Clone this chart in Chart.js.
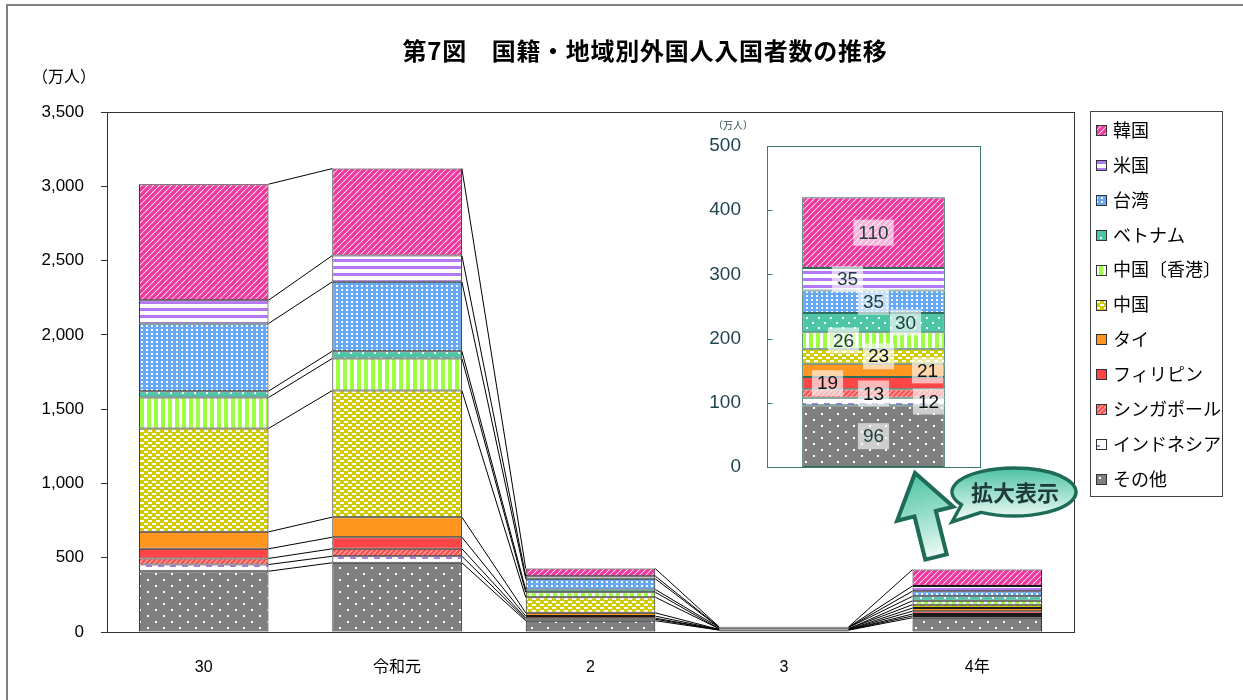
<!DOCTYPE html>
<html lang="ja">
<head>
<meta charset="utf-8">
<title>国籍・地域別外国人入国者数の推移</title>
<script src="https://cdn.jsdelivr.net/npm/chart.js@4/dist/chart.umd.min.js"></script>
<style>
  html, body { margin: 0; padding: 0; background: #fff; }
  #wrap { position: relative; width: 1243px; height: 700px; }
  #main { position: absolute; left: 0; top: 0; }
  #zoom { position: absolute; left: 690px; top: 110px; pointer-events: none; }
</style>
</head>
<body>
<div id="wrap">
  <canvas id="main" width="1243" height="700"></canvas>
  <canvas id="zoom" width="300" height="370"></canvas>
</div>
<script>
// ---- data (万人) ----
const categories = ['30', '令和元', '2', '3', '4年'];
const seriesNames = ['その他', 'インドネシア', 'シンガポール', 'フィリピン', 'タイ', '中国', '中国〔香港〕', 'ベトナム', '台湾', '米国', '韓国'];
const other       = [409, 466, 76, 12.6, 96];
const indonesia   = [45, 44, 10, 2.2, 12];
const singapore   = [41, 50, 7, 0.2, 13];
const philippines = [65, 78, 14, 1.6, 19];
const thailand    = [114, 135, 22, 1.0, 21];
const china       = [696, 852, 105, 4.3, 23];
const hongkong    = [208, 216, 34, 0.2, 26];
const vietnam     = [43, 49, 18, 8.4, 30];
const taiwan      = [455, 467, 72, 0.5, 35];
const usa         = [157, 177, 18, 2.1, 35];
const korea       = [781, 585, 51, 1.9, 110];
const mainTicks  = [0, 500, 1000, 1500, 2000, 2500, 3000, 3500];
const zoomTicks  = [0, 100, 200, 300, 400, 500];
const zoomIndex  = 4; // the 4年 column is enlarged in the inset

const seriesValues = [other, indonesia, singapore, philippines, thailand, china, hongkong, vietnam, taiwan, usa, korea];

// ---- fill patterns ----
function tile(w, h, draw) {
  const c = document.createElement('canvas');
  c.width = w; c.height = h;
  const g = c.getContext('2d');
  draw(g, w, h);
  return g.createPattern(c, 'repeat');
}
function diagonal(fg, bg, p, lw) {
  return tile(p, p, (g, w, h) => {
    g.fillStyle = bg; g.fillRect(0, 0, w, h);
    g.strokeStyle = fg; g.lineWidth = lw;
    for (const o of [-p, 0, p]) {
      g.beginPath(); g.moveTo(o - 1, p + 1); g.lineTo(o + p + 1, -1); g.stroke();
    }
  });
}
function dots(bg, w, h, pts, dw, dh, fg) {
  return tile(w, h, (g) => {
    g.fillStyle = bg; g.fillRect(0, 0, w, h);
    g.fillStyle = fg || '#ffffff';
    pts.forEach(([x, y]) => g.fillRect(x, y, dw, dh));
  });
}
const fills = [
  dots('#7f7f7f', 16, 12, [[3, 3], [11, 9]], 2, 2),                    // その他
  dots('#ffffff', 12, 8, [[2, 5]], 6, 2, '#a878f2'),                  // インドネシア
  diagonal('#ff4f4f', '#ffb8b8', 5, 2.6),                              // シンガポール
  '#ff4646',                                                           // フィリピン
  '#ff9620',                                                           // タイ
  dots('#d3ca00', 8, 6, [[0, 1], [4, 4]], 4, 2),                       // 中国
  tile(7, 1, (g) => { g.fillStyle = '#ffffff'; g.fillRect(0, 0, 7, 1); g.fillStyle = '#9cff40'; g.fillRect(0, 0, 4, 1); }), // 中国〔香港〕
  dots('#4dc5a7', 12, 10, [[2, 2], [8, 7]], 2, 2),                     // ベトナム
  dots('#66aaf7', 5, 4, [[1, 1]], 2, 2),                               // 台湾
  tile(1, 7, (g) => { g.fillStyle = '#ffffff'; g.fillRect(0, 0, 1, 7); g.fillStyle = '#b478f5'; g.fillRect(0, 0, 1, 3); }), // 米国
  diagonal('#ee3a9e', '#ffffff', 6, 3.4)                               // 韓国
];

const FONT_LATIN = '"Liberation Sans", "Noto Sans CJK JP", sans-serif';
const FONT_JP = '"Noto Sans CJK JP", "Liberation Sans", sans-serif';

// ---- main chart decorations ----
const frameAndText = {
  id: 'frameAndText',
  beforeDraw(chart) {
    const ctx = chart.ctx;
    ctx.save();
    ctx.fillStyle = '#ffffff';
    ctx.fillRect(0, 0, chart.width, chart.height);
    // outer border
    ctx.strokeStyle = '#808080'; ctx.lineWidth = 2;
    ctx.strokeRect(7, 5, chart.width + 20, chart.height + 20);
    // title
    ctx.fillStyle = '#000';
    ctx.font = 'bold 24px ' + FONT_JP;
    ctx.textAlign = 'center'; ctx.textBaseline = 'middle';
    const title = '第7図　国籍・地域別外国人入国者数の推移';
    const w = ctx.measureText(title).width;
    const target = 485;
    ctx.letterSpacing = ((target - w) / title.length).toFixed(2) + 'px';
    ctx.fillText(title, 645, 51);
    ctx.letterSpacing = '0px';
    // unit
    ctx.font = '16px ' + FONT_JP;
    ctx.fillText('（万人）', 64, 76);
    ctx.restore();
  },
  beforeDatasetsDraw(chart) {
    const { ctx, chartArea: a } = chart;
    ctx.save();
    ctx.strokeStyle = '#333'; ctx.lineWidth = 1;
    ctx.strokeRect(Math.round(a.left) + 0.5, Math.round(a.top) + 0.5, Math.round(a.right - a.left), Math.round(a.bottom - a.top));
    ctx.restore();
  },
  afterDatasetsDraw(chart) {
    // series lines joining the top of every segment across neighbouring bars
    const ctx = chart.ctx;
    ctx.save();
    ctx.strokeStyle = '#000'; ctx.lineWidth = 1;
    chart.data.datasets.forEach((ds, d) => {
      const meta = chart.getDatasetMeta(d);
      for (let i = 0; i < meta.data.length - 1; i++) {
        const a = meta.data[i], b = meta.data[i + 1];
        ctx.beginPath();
        ctx.moveTo(a.x + a.width / 2, a.y);
        ctx.lineTo(b.x - b.width / 2, b.y);
        ctx.stroke();
      }
    });
    ctx.restore();
  },
  afterDraw(chart) {
    const ctx = chart.ctx;
    ctx.save();
    // legend (top series first)
    ctx.strokeStyle = '#444'; ctx.lineWidth = 1;
    ctx.strokeRect(1090.5, 111.5, 132, 385);
    ctx.font = '18px ' + FONT_JP;
    ctx.textAlign = 'left'; ctx.textBaseline = 'middle';
    const n = chart.data.datasets.length;
    for (let k = 0; k < n; k++) {
      const ds = chart.data.datasets[n - 1 - k];
      const cy = 130 + k * 34.9;
      ctx.fillStyle = ds.backgroundColor;
      ctx.fillRect(1097, Math.round(cy) - 4, 9, 9);
      ctx.strokeStyle = '#333';
      ctx.strokeRect(1096.5, Math.round(cy) - 4.5, 10, 10);
      ctx.fillStyle = '#000';
      ctx.fillText(ds.label, 1113, cy);
    }

    // arrow pointing up to the enlarged view
    const bx = 936, by = 557, tx = 915, ty = 473;
    const ang = Math.atan2(ty - by, tx - bx);
    const len = Math.hypot(tx - bx, ty - by);
    ctx.save();
    ctx.translate(bx, by);
    ctx.rotate(ang);
    const grad = ctx.createLinearGradient(0, 0, len, 0);
    grad.addColorStop(0, '#eefaf6');
    grad.addColorStop(0.55, '#8fdcc4');
    grad.addColorStop(1, '#4cc3a3');
    ctx.beginPath();
    ctx.moveTo(0, -11); ctx.lineTo(len - 42, -11); ctx.lineTo(len - 42, -29);
    ctx.lineTo(len, 0);
    ctx.lineTo(len - 42, 29); ctx.lineTo(len - 42, 11); ctx.lineTo(0, 11);
    ctx.closePath();
    ctx.fillStyle = grad; ctx.fill();
    ctx.lineWidth = 4; ctx.strokeStyle = '#1e6b57'; ctx.lineJoin = 'miter';
    ctx.stroke();
    ctx.restore();

    // speech bubble
    const cx = 1014, cy = 492, rx = 62, ry = 24;
    const d2r = Math.PI / 180;
    const bg = ctx.createLinearGradient(0, cy - ry, 0, cy + ry);
    bg.addColorStop(0, '#4cc3a3');
    bg.addColorStop(1, '#e6f7f1');
    ctx.beginPath();
    ctx.moveTo(952, 522);
    ctx.ellipse(cx, cy, rx, ry, 0, 148 * d2r, 482 * d2r, false);
    ctx.closePath();
    ctx.fillStyle = bg; ctx.fill();
    ctx.lineWidth = 3.5; ctx.strokeStyle = '#1e6b57'; ctx.stroke();
    ctx.fillStyle = '#1f3a3a';
    ctx.font = 'bold 22px ' + FONT_JP;
    ctx.textAlign = 'center'; ctx.textBaseline = 'middle';
    ctx.fillText('拡大表示', 1015, 493);
    ctx.restore();
  }
};

new Chart(document.getElementById('main'), {
  type: 'bar',
  data: {
    labels: categories,
    datasets: seriesNames.map((name, i) => ({
      label: name,
      data: seriesValues[i],
      backgroundColor: fills[i],
      borderColor: '#1a1a1a',
      borderWidth: 1,
      borderSkipped: false,
      barPercentage: 0.67,
      categoryPercentage: 1.0
    }))
  },
  options: {
    responsive: false,
    animation: false,
    events: [],
    layout: { padding: { left: 10, right: 169, top: 112, bottom: 8 } },
    plugins: { legend: { display: false }, tooltip: { enabled: false } },
    scales: {
      x: {
        stacked: true,
        grid: { display: false },
        border: { display: false },
        ticks: { color: '#000', padding: 18, font: { family: FONT_LATIN, size: 16 } },
        afterFit(s) { s.height = 60; s.paddingLeft = 0; s.paddingRight = 0; }
      },
      y: {
        stacked: true,
        min: 0, max: 3500,
        afterBuildTicks(s) { s.ticks = mainTicks.map(v => ({ value: v })); },
        ticks: {
          color: '#000', padding: 17,
          font: { family: FONT_LATIN, size: 17 },
          callback: v => v.toLocaleString('en-US')
        },
        grid: { drawOnChartArea: false, tickLength: 6, color: '#333' },
        border: { display: false },
        afterFit(s) { s.width = 97; s.paddingTop = 0; s.paddingBottom = 0; }
      }
    }
  },
  plugins: [frameAndText]
});

// ---- inset: enlarged 4年 column ----
const labelOffsets = [0, 55, 0, -46, 54, 5, -30, 32, 0, -26, 0];
const labelColors = ['#1f4040', '#111', '#111', '#111', '#111', '#111', '#1f4040', '#1f4040', '#1f4040', '#1f4040', '#1f4040'];

const insetDeco = {
  id: 'insetDeco',
  afterDatasetsDraw(chart) {
    const { ctx, chartArea: a, scales: { y } } = chart;
    ctx.save();
    // frame and inner tick marks
    ctx.strokeStyle = '#3c7a6c'; ctx.lineWidth = 1;
    const L = Math.round(a.left) + 0.5, T = Math.round(a.top) + 0.5;
    ctx.strokeRect(L, T, Math.round(a.right - a.left), Math.round(a.bottom - a.top));
    zoomTicks.forEach(v => {
      const py = Math.round(y.getPixelForValue(v)) + 0.5;
      ctx.beginPath(); ctx.moveTo(L, py); ctx.lineTo(L + 5, py); ctx.stroke();
    });
    // unit
    ctx.fillStyle = '#2a4a50';
    ctx.font = '10px ' + FONT_JP;
    ctx.textAlign = 'center'; ctx.textBaseline = 'middle';
    ctx.fillText('（万人）', 43, 15);
    // value labels
    ctx.font = '19px ' + FONT_LATIN;
    chart.data.datasets.forEach((ds, d) => {
      const el = chart.getDatasetMeta(d).data[0];
      const text = String(ds.data[0]);
      const cx = el.x + labelOffsets[d];
      const cy = (el.y + el.base) / 2;
      const tw = ctx.measureText(text).width;
      ctx.fillStyle = 'rgba(255,255,255,0.62)';
      ctx.fillRect(cx - tw / 2 - 5, cy - 13, tw + 10, 26);
      ctx.fillStyle = labelColors[d];
      ctx.fillText(text, cx, cy + 1);
    });
    ctx.restore();
  }
};

new Chart(document.getElementById('zoom'), {
  type: 'bar',
  data: {
    labels: [categories[zoomIndex]],
    datasets: seriesNames.map((name, i) => ({
      label: name,
      data: [seriesValues[i][zoomIndex]],
      backgroundColor: fills[i],
      borderColor: '#2f6b5e',
      borderWidth: 1,
      borderSkipped: false,
      barPercentage: 0.67,
      categoryPercentage: 1.0
    }))
  },
  options: {
    responsive: false,
    animation: false,
    events: [],
    layout: { padding: { left: 0, right: 10, top: 36, bottom: 13 } },
    plugins: { legend: { display: false }, tooltip: { enabled: false } },
    scales: {
      x: { stacked: true, display: false },
      y: {
        stacked: true,
        min: 0, max: 500,
        afterBuildTicks(s) { s.ticks = zoomTicks.map(v => ({ value: v })); },
        ticks: { color: '#1f4550', padding: 18, font: { family: FONT_LATIN, size: 19 } },
        grid: { display: false },
        border: { display: false },
        afterFit(s) { s.width = 77; s.paddingTop = 0; s.paddingBottom = 0; }
      }
    }
  },
  plugins: [insetDeco]
});
</script>
</body>
</html>
